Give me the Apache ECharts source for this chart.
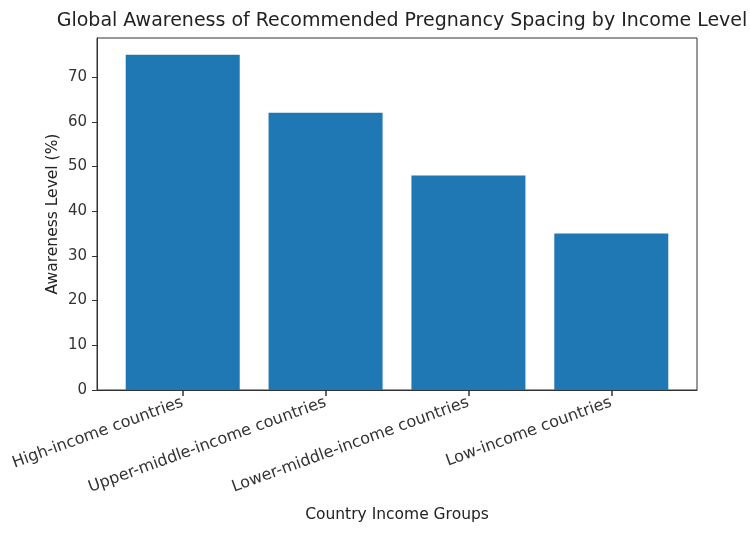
<!DOCTYPE html>
<html>
<head>
<meta charset="utf-8">
<script src="https://cdn.jsdelivr.net/npm/echarts@6/dist/echarts.min.js"></script>
<style>
  html, body { margin: 0; padding: 0; background: #fff; }
  #chart { width: 750px; height: 534px; }
</style>
</head>
<body>
<div id="chart"></div>
<script>
  // data
  var categories = ['High-income countries', 'Upper-middle-income countries', 'Lower-middle-income countries', 'Low-income countries'];
  var awareness = [75, 62, 48, 35];

  var font = 'DejaVu Sans';
  var chart = echarts.init(document.getElementById('chart'));

  chart.setOption({
    animation: false,
    title: {
      text: 'Global Awareness of Recommended Pregnancy Spacing by Income Level',
      left: 397,
      textAlign: 'center',
      top: 7,
      textStyle: { fontFamily: font, fontSize: 19, fontWeight: 'normal', color: '#222' }
    },
    grid: {
      left: 97, right: 53, top: 38, bottom: 144,
      show: true, borderColor: '#333', borderWidth: 1
    },
    xAxis: {
      type: 'value',
      min: -0.6,
      max: 3.6,
      name: 'Country Income Groups',
      nameLocation: 'middle',
      nameGap: 117,
      nameMoveOverlap: false,
      nameTextStyle: { fontFamily: font, fontSize: 15.5, color: '#222' },
      axisLine: { show: true, onZero: false, lineStyle: { color: '#333' } },
      axisTick: { show: true, length: 6, customValues: [0, 1, 2, 3], lineStyle: { color: '#333', width: 1.5 } },
      axisLabel: {
        customValues: [0, 1, 2, 3],
        rotate: 20,
        margin: 12,
        fontFamily: font, fontSize: 16, color: '#333',
        formatter: function (v) { return categories[Math.round(v)]; }
      },
      splitLine: { show: false }
    },
    yAxis: {
      type: 'value',
      min: 0,
      max: 78.75,
      interval: 10,
      name: 'Awareness Level (%)',
      nameLocation: 'middle',
      nameGap: 36,
      nameMoveOverlap: false,
      nameTextStyle: { fontFamily: font, fontSize: 15.5, color: '#222' },
      axisLine: { show: true, onZero: false, lineStyle: { color: '#333' } },
      axisTick: { show: true, length: 5, lineStyle: { color: '#333' } },
      axisLabel: { showMaxLabel: false, margin: 10, fontFamily: font, fontSize: 15, color: '#333' },
      splitLine: { show: false }
    },
    series: [{
      type: 'bar',
      barWidth: 114,
      itemStyle: { color: '#1f77b4' },
      data: awareness.map(function (v, i) { return [i, v]; })
    }]
  });
</script>
</body>
</html>
